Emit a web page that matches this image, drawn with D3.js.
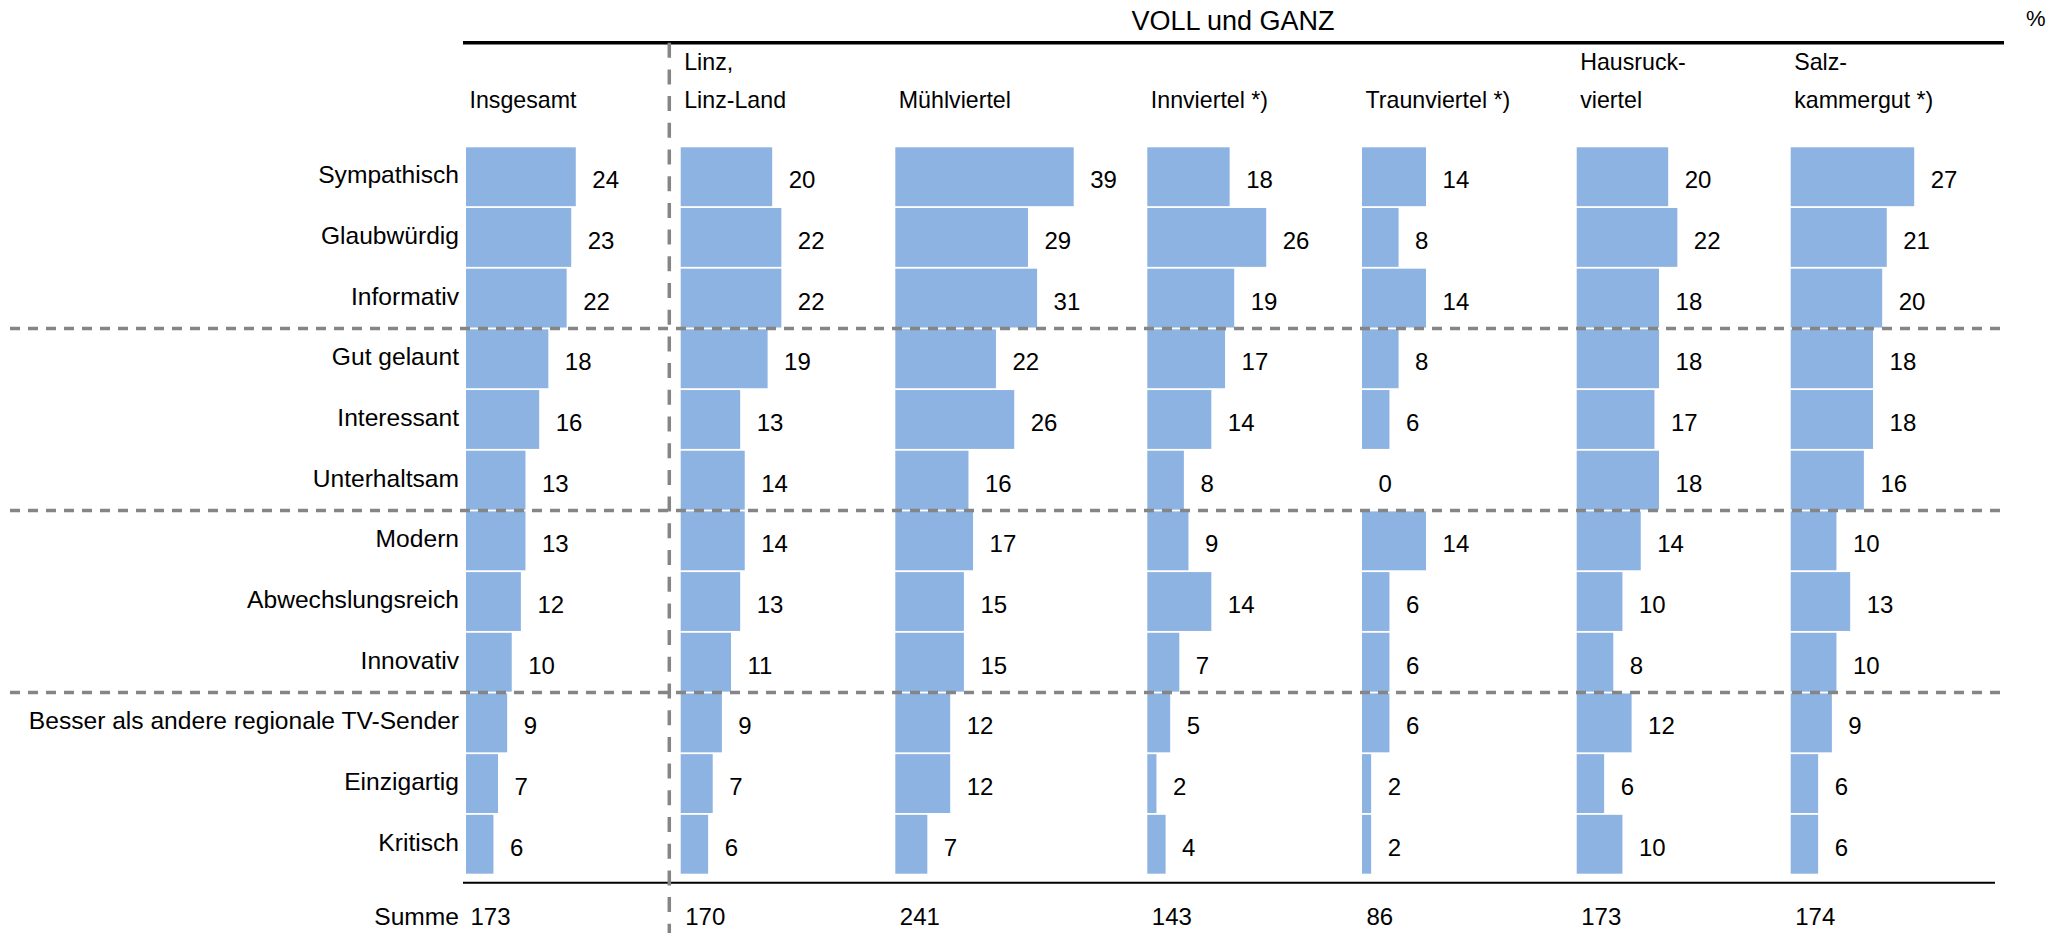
<!DOCTYPE html>
<html>
<head>
<meta charset="utf-8">
<script src="https://cdn.jsdelivr.net/npm/d3@7/dist/d3.min.js"></script>
<style>
  html, body { margin: 0; padding: 0; background: #fff; }
  svg { display: block; }
  text { font-family: "Liberation Sans", Arial, sans-serif; fill: #000; }
</style>
</head>
<body>
<svg id="chart" width="2062" height="933"></svg>
<script>
// Image attributes of the station ("VOLL und GANZ"), by region, in percent
const categories = [
  "Sympathisch", "Glaubwürdig", "Informativ",
  "Gut gelaunt", "Interessant", "Unterhaltsam",
  "Modern", "Abwechslungsreich", "Innovativ",
  "Besser als andere regionale TV-Sender", "Einzigartig", "Kritisch"
];

const regions = ["Insgesamt", "Linz, Linz-Land", "Mühlviertel", "Innviertel *)",
                 "Traunviertel *)", "Hausruckviertel", "Salzkammergut *)"];

// Column headings, split over two lines
const headerLines = [
  ["", "Insgesamt"],
  ["Linz,", "Linz-Land"],
  ["", "Mühlviertel"],
  ["", "Innviertel *)"],
  ["", "Traunviertel *)"],
  ["Hausruck-", "viertel"],
  ["Salz-", "kammergut *)"]
];

const insgesamt    = [24, 23, 22, 18, 16, 13, 13, 12, 10, 9, 7, 6];
const linz         = [20, 22, 22, 19, 13, 14, 14, 13, 11, 9, 7, 6];
const muehlviertel = [39, 29, 31, 22, 26, 16, 17, 15, 15, 12, 12, 7];
const innviertel   = [18, 26, 19, 17, 14, 8, 9, 14, 7, 5, 2, 4];
const traunviertel = [14, 8, 14, 8, 6, 0, 14, 6, 6, 6, 2, 2];
const hausruck     = [20, 22, 18, 18, 17, 18, 14, 10, 8, 12, 6, 10];
const salzkammergut= [27, 21, 20, 18, 18, 16, 10, 13, 10, 9, 6, 6];

const series = [insgesamt, linz, muehlviertel, innviertel, traunviertel, hausruck, salzkammergut];

const sums = [173, 170, 241, 143, 86, 173, 174];

// Groups of attributes separated by dashed rules (index of first item after each break)
const groupBreaks = [3, 6, 9];

// ---- layout ----
const svg = d3.select("#chart");
const barColor = "#8db3e2";
const ruleGray = "#858585";
const fontSize = 24;
const labelFontSize = 24.6;

const colLeft = [466, 680.7, 895.3, 1147.3, 1362, 1576.7, 1790.7];
const tableLeft = 463, tableRight = 2004, bottomRight = 1995;
const topRuleY = 42.7, bottomRuleY = 882.7;
const dividerX = 669.3;

const y = d3.scaleBand()
  .domain(categories)
  .range([146.4, 874.6])
  .paddingInner(0.03)
  .paddingOuter(0.015);

const x = d3.scaleLinear().domain([0, 39]).range([0, 178.4]);

// Title and unit
svg.append("text")
  .attr("x", 1233).attr("y", 29.5)
  .attr("text-anchor", "middle")
  .style("font-size", "27px")
  .text("VOLL und GANZ");

svg.append("text")
  .attr("x", 2026).attr("y", 26)
  .style("font-size", "22px")
  .text("%");

// Top rule
svg.append("line")
  .attr("x1", tableLeft).attr("x2", tableRight)
  .attr("y1", topRuleY).attr("y2", topRuleY)
  .attr("stroke", "#000").attr("stroke-width", 3.5);

// Column headers
regions.forEach((r, i) => {
  headerLines[i].forEach((line, j) => {
    if (!line) return;
    svg.append("text")
      .attr("x", colLeft[i] + 3.5)
      .attr("y", j === 0 ? 69.5 : 107.5)
      .style("font-size", "23.2px")
      .text(line);
  });
});

// Category labels
svg.append("g").selectAll("text")
  .data(categories)
  .join("text")
  .attr("x", 459)
  .attr("y", d => y(d) + y.bandwidth() / 2 + 6.5)
  .attr("text-anchor", "end")
  .style("font-size", labelFontSize + "px")
  .text(d => d);

// Bars and value labels per region
series.forEach((vals, i) => {
  const g = svg.append("g").attr("transform", `translate(${colLeft[i]},0)`);
  const rows = vals.map((v, k) => ({ cat: categories[k], v }));
  g.selectAll("rect")
    .data(rows)
    .join("rect")
    .attr("x", 0)
    .attr("y", d => y(d.cat))
    .attr("width", d => x(d.v))
    .attr("height", y.bandwidth())
    .attr("fill", barColor);
  g.selectAll("text.val")
    .data(rows)
    .join("text")
    .attr("class", "val")
    .attr("x", d => x(d.v) + 16.5)
    .attr("y", d => y(d.cat) + y.bandwidth() / 2 + 11.5)
    .style("font-size", fontSize + "px")
    .text(d => d.v);
});

// Dashed separators between attribute groups
const gapHalf = (y.step() - y.bandwidth()) / 2;
svg.append("g").selectAll("line")
  .data(groupBreaks)
  .join("line")
  .attr("x1", 10).attr("x2", tableRight)
  .attr("y1", d => y(categories[d]) - gapHalf)
  .attr("y2", d => y(categories[d]) - gapHalf)
  .attr("stroke", ruleGray)
  .attr("stroke-width", 3.5)
  .attr("stroke-dasharray", "10,8");

// Bottom rule
svg.append("line")
  .attr("x1", tableLeft).attr("x2", bottomRight)
  .attr("y1", bottomRuleY).attr("y2", bottomRuleY)
  .attr("stroke", "#000").attr("stroke-width", 2);

// Vertical divider between total and regions
svg.append("line")
  .attr("x1", dividerX).attr("x2", dividerX)
  .attr("y1", topRuleY).attr("y2", 933)
  .attr("stroke", ruleGray)
  .attr("stroke-width", 3.5)
  .attr("stroke-dasharray", "15,11.7");

// Sum row
svg.append("text")
  .attr("x", 459).attr("y", 925)
  .attr("text-anchor", "end")
  .style("font-size", labelFontSize + "px")
  .text("Summe");

svg.append("g").selectAll("text")
  .data(sums)
  .join("text")
  .attr("x", (d, i) => colLeft[i] + 4.5)
  .attr("y", 925)
  .style("font-size", fontSize + "px")
  .text(d => d);
</script>
</body>
</html>
